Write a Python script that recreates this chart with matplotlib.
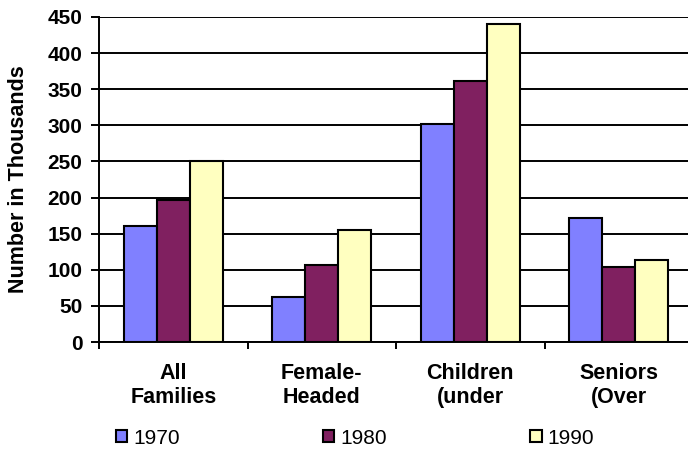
import numpy as np
import matplotlib
matplotlib.use("Agg")
import matplotlib.pyplot as plt
from matplotlib.ticker import FixedLocator, NullFormatter

plt.rcParams['font.family'] = ['Liberation Sans', 'DejaVu Sans']

categories = ["All\nFamilies", "Female-\nHeaded", "Children\n(under", "Seniors\n(Over"]
years = ["1970", "1980", "1990"]
values_1970 = [160, 62, 302, 172]
values_1980 = [197, 107, 361, 104]
values_1990 = [251, 155, 440, 114]
colors = ["#8080FF", "#802060", "#FFFFC0"]
y_ticks = [0, 50, 100, 150, 200, 250, 300, 350, 400, 450]

fig = plt.figure(figsize=(6.88, 4.55), dpi=100)
ax = fig.add_axes([99 / 688, 1 - 342 / 455, 594 / 688, 325 / 455])

x = np.arange(len(categories))
width = 0.222
series = [values_1970, values_1980, values_1990]
handles = []
for i, (vals, col, yr) in enumerate(zip(series, colors, years)):
    h = ax.bar(x + (i - 1) * width, vals, width, color=col, edgecolor="black",
               linewidth=1.5, zorder=3, label=yr)
    handles.append(h)

ax.set_xlim(-0.5, len(categories) - 0.5)
ax.set_ylim(0, 450)
ax.set_yticks(y_ticks)
ax.yaxis.grid(True, color="black", linewidth=1.4, zorder=0)
ax.set_axisbelow(True)

# boundaries between groups carry the tick marks, centres carry the labels
ax.xaxis.set_major_locator(FixedLocator(np.arange(len(categories) + 1) - 0.5))
ax.xaxis.set_major_formatter(NullFormatter())
ax.xaxis.set_minor_locator(FixedLocator(x))
ax.set_xticklabels(categories, minor=True, fontsize=15.5, fontweight="bold",
                   linespacing=1.2)
ax.tick_params(axis="x", which="minor", length=0, pad=15)
ax.tick_params(axis="x", which="major", length=5, width=1.4, direction="out")
ax.tick_params(axis="y", length=6, width=1.4, direction="out", labelsize=15, pad=6)
for lbl in ax.get_yticklabels():
    lbl.set_fontweight("bold")

for side in ("top", "right"):
    ax.spines[side].set_visible(False)
for side in ("left", "bottom"):
    ax.spines[side].set_linewidth(1.4)
    ax.spines[side].set_color("black")

ax.set_ylabel("Number in Thousands", fontsize=15.5, fontweight="bold", labelpad=13)

fig.legend(handles=handles, labels=years, loc="center left",
           bbox_to_anchor=(116 / 688, 1 - 438 / 455), ncol=3, frameon=False,
           fontsize=15, handlelength=0.55, handleheight=0.55, handletextpad=0.3,
           columnspacing=6.85, borderpad=0, borderaxespad=0)

fig.savefig("out.png", dpi=100)
